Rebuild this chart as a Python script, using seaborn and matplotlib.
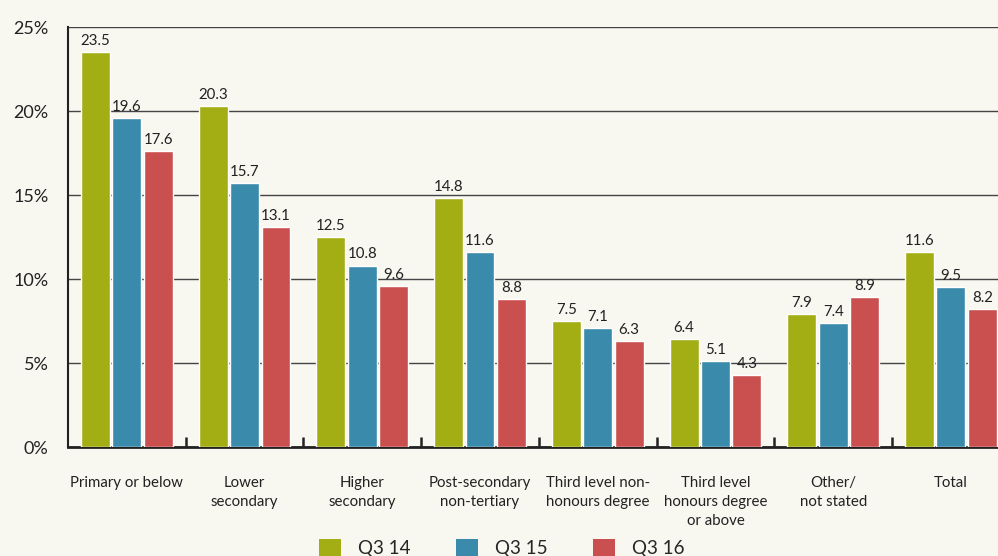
import numpy as np
import pandas as pd
import matplotlib
matplotlib.use("Agg")
import matplotlib.pyplot as plt
import seaborn as sns
from matplotlib.patches import Patch

# data
categories = ["Primary or below", "Lower\nsecondary", "Higher\nsecondary",
              "Post-secondary\nnon-tertiary", "Third level non-\nhonours degree",
              "Third level\nhonours degree\nor above", "Other/\nnot stated", "Total"]
quarters = ["Q3 14", "Q3 15", "Q3 16"]
q3_14 = [23.5, 20.3, 12.5, 14.8, 7.5, 6.4, 7.9, 11.6]
q3_15 = [19.6, 15.7, 10.8, 11.6, 7.1, 5.1, 7.4, 9.5]
q3_16 = [17.6, 13.1, 9.6, 8.8, 6.3, 4.3, 8.9, 8.2]
colors = ["#a3ae15", "#3a8aab", "#c9504e"]
bg = "#f8f7f0"

df = pd.DataFrame({
    "category": categories * 3,
    "quarter": np.repeat(quarters, len(categories)),
    "value": q3_14 + q3_15 + q3_16,
})

sns.set_style("white")
plt.rcParams["font.family"] = ["Lato", "DejaVu Sans"]

fig = plt.figure(figsize=(9.98, 5.56), dpi=100, facecolor=bg)
ax = fig.add_axes([68 / 998, 109 / 556, 1 - 68 / 998, 420 / 556])
ax.set_facecolor(bg)

sns.barplot(data=df, x="category", y="value", hue="quarter", order=categories,
            hue_order=quarters, palette=colors, width=0.8, gap=0.08,
            saturation=1, ax=ax, legend=False, zorder=3)

for cont in ax.containers:
    ax.bar_label(cont, fmt="%.1f", padding=3, fontsize=10.8, color="#222222")

ax.set_ylim(0, 25)
ax.set_xlim(-0.5, 7.40)
ax.set_yticks([0, 5, 10, 15, 20, 25])
ax.set_yticklabels([f"{v}%" for v in [0, 5, 10, 15, 20, 25]], fontsize=13, color="#222222")
ax.tick_params(axis="y", length=0, pad=14)
ax.tick_params(axis="x", which="major", bottom=True, length=0, pad=21,
               labelsize=10.8, labelcolor="#222222")
for lab in ax.get_xticklabels():
    lab.set_linespacing(1.45)
ax.set_xticks(np.arange(0.5, 7.5, 1.0), minor=True)
ax.tick_params(axis="x", which="minor", bottom=True, direction="in", length=7,
               width=1.8, color="#222222")
ax.set_xlabel("")
ax.set_ylabel("")

ax.yaxis.grid(True, color="#444444", linewidth=1.0, zorder=0)
ax.set_axisbelow(True)
for s in ["top", "right"]:
    ax.spines[s].set_visible(False)
ax.spines["left"].set_color("#222222")
ax.spines["left"].set_linewidth(1.5)
ax.spines["bottom"].set_color("#222222")
ax.spines["bottom"].set_linewidth(2.0)

handles = [Patch(facecolor=c, edgecolor="none", label=q) for c, q in zip(colors, quarters)]
fig.legend(handles=handles, loc="upper center", bbox_to_anchor=(0.503, 0.031),
           ncol=3, frameon=False, fontsize=13.5, handlelength=1.15, handleheight=1.15,
           handletextpad=0.95, columnspacing=2.4, borderpad=0, borderaxespad=0)

fig.savefig("out.png", dpi=100, facecolor=bg)
